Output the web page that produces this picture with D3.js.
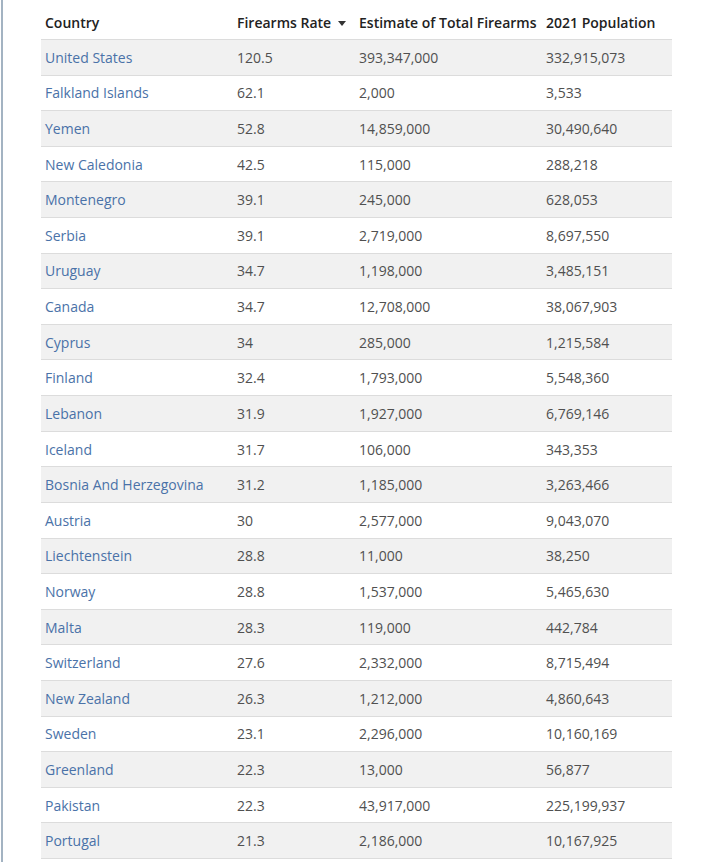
<!DOCTYPE html>
<html>
<head>
<meta charset="utf-8">
<script src="https://cdn.jsdelivr.net/npm/d3@7"></script>
<style>
  body { margin: 0; background: #fff; font-family: "Open Sans", sans-serif; }
  .rule { position: absolute; left: 1px; top: 0; width: 2px; height: 862px; background: #a3b3c2; }
  table { position: absolute; left: 41px; top: 5px; border-collapse: collapse; table-layout: fixed; width: 631px; font-size: 14px; }
  th { text-align: left; font-weight: 600; color: #222; height: 34px; padding: 0 4px; vertical-align: middle; }
  td { height: 34.62px; padding: 0 4px; border-top: 1px solid #dcdcdc; color: #505050; vertical-align: middle; white-space: nowrap; }
  tbody tr:nth-child(odd) td { background: #f1f1f1; }
  tbody tr:last-child td { border-bottom: 1px solid #dcdcdc; }
  td.country { color: #4a72a8; }
  .arrow { display: inline-block; width: 0; height: 0; margin-left: 7px; vertical-align: middle;
           border-left: 4px solid transparent; border-right: 4px solid transparent; border-top: 5px solid #333; }
</style>
</head>
<body>
<div class="rule"></div>
<div id="chart"></div>
<script>
// table contents
var headers = ["Country", "Firearms Rate", "Estimate of Total Firearms", "2021 Population"];
var countries = ["United States", "Falkland Islands", "Yemen", "New Caledonia", "Montenegro", "Serbia",
  "Uruguay", "Canada", "Cyprus", "Finland", "Lebanon", "Iceland", "Bosnia And Herzegovina", "Austria",
  "Liechtenstein", "Norway", "Malta", "Switzerland", "New Zealand", "Sweden", "Greenland", "Pakistan", "Portugal"];
var rates = [120.5, 62.1, 52.8, 42.5, 39.1, 39.1, 34.7, 34.7, 34, 32.4, 31.9, 31.7, 31.2, 30,
  28.8, 28.8, 28.3, 27.6, 26.3, 23.1, 22.3, 22.3, 21.3];
var firearms = [393347000, 2000, 14859000, 115000, 245000, 2719000, 1198000, 12708000, 285000, 1793000,
  1927000, 106000, 1185000, 2577000, 11000, 1537000, 119000, 2332000, 1212000, 2296000, 13000, 43917000, 2186000];
var population = [332915073, 3533, 30490640, 288218, 628053, 8697550, 3485151, 38067903, 1215584, 5548360,
  6769146, 343353, 3263466, 9043070, 38250, 5465630, 442784, 8715494, 4860643, 10160169, 56877, 225199937, 10167925];

var colWidths = [192, 122, 187, 130];
var fmt = d3.format(",");

var rows = countries.map(function (c, i) {
  return [c, String(rates[i]), fmt(firearms[i]), fmt(population[i])];
});

var table = d3.select("#chart").append("table");
table.append("colgroup").selectAll("col")
  .data(colWidths)
  .enter().append("col")
  .style("width", function (d) { return d + "px"; });

var th = table.append("thead").append("tr")
  .selectAll("th")
  .data(headers)
  .enter().append("th")
  .text(function (d) { return d; });
// sort indicator on the rate column
th.filter(function (d, i) { return i === 1; }).append("span").attr("class", "arrow");

table.append("tbody").selectAll("tr")
  .data(rows)
  .enter().append("tr")
  .selectAll("td")
  .data(function (d) { return d; })
  .enter().append("td")
  .attr("class", function (d, i) { return i === 0 ? "country" : null; })
  .text(function (d) { return d; });
</script>
</body>
</html>
